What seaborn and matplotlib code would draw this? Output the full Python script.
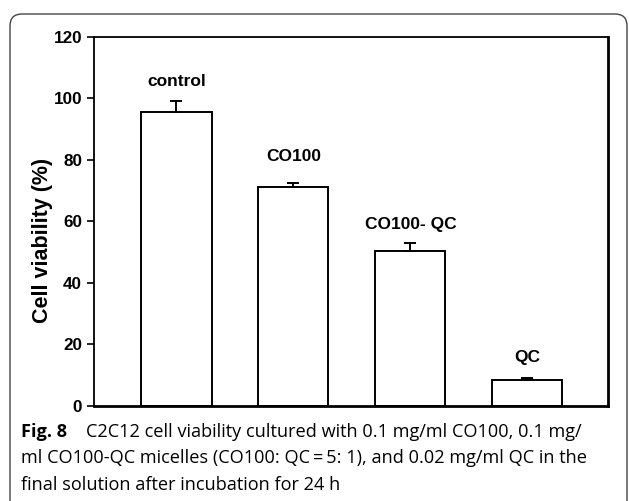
import matplotlib
matplotlib.use("Agg")
import matplotlib.pyplot as plt
from matplotlib.patches import FancyBboxPatch
import seaborn as sns
import pandas as pd

categories = ["control", "CO100", "CO100- QC", "QC"]
viability = [95.4, 71.0, 50.2, 8.5]
errors = [3.6, 1.3, 2.9, 0.7]
label_y = [105.3, 80.9, 58.8, 15.9]
yticks = [0, 20, 40, 60, 80, 100, 120]

df = pd.DataFrame({"group": categories, "viability": viability})

sns.set_style("ticks")
plt.rcParams['font.family'] = ['Liberation Sans', 'DejaVu Sans']
for k in ['text.color', 'axes.labelcolor', 'xtick.color', 'ytick.color', 'axes.edgecolor']:
    plt.rcParams[k] = 'black'

fig = plt.figure(figsize=(6.29, 5.01), dpi=100)
ax = fig.add_axes([94/629, 95/501, 514/629, (406-36.6)/501])

sns.barplot(data=df, x="group", y="viability", color="white", edgecolor="black",
            linewidth=1.4, width=0.6, ax=ax, errorbar=None, saturation=1)
ax.errorbar(range(len(categories)), viability, yerr=[[0]*4, errors], fmt="none",
            ecolor="black", elinewidth=1.4, capsize=4.3, capthick=1.4)

for i, (c, ly) in enumerate(zip(categories, label_y)):
    ax.text(i, ly, c, ha="center", va="center", fontsize=12.5, fontweight="bold")

ax.set_xlim(-0.705, 3.69)
ax.set_ylim(0, 120)
ax.set_yticks(yticks)
ax.set_yticklabels([str(t) for t in yticks], fontsize=12.3, fontweight="bold")
ax.set_xticks([])
ax.set_xlabel("")
ax.set_ylabel("Cell viability (%)", fontsize=15.5, fontweight="bold")
ax.yaxis.set_label_coords(-0.08, 0.449)
ax.tick_params(axis="y", direction="out", length=5, width=1.2, pad=3.5)
for s in ["left", "top"]:
    ax.spines[s].set_linewidth(1.3)
for s in ["right", "bottom"]:
    ax.spines[s].set_linewidth(2)
for s in ax.spines.values():
    s.set_color("black")
    s.set_visible(True)

# caption frame
box = FancyBboxPatch((10, -30), 617, 517, boxstyle="round,pad=0,rounding_size=12",
                     transform=None, facecolor="none", edgecolor="#444444", linewidth=1.0)
fig.patches.append(box)

cap_font = ['Open Sans', 'DejaVu Sans']
fs = 13.1
fig.text(21/629, 1-432/501, "Fig. 8", fontsize=fs, fontweight="bold", family=cap_font, va="center")
fig.text(86/629, 1-432/501, "C2C12 cell viability cultured with 0.1 mg/ml CO100, 0.1 mg/",
         fontsize=fs, family=cap_font, va="center")
fig.text(21/629, 1-458/501, "ml CO100-QC micelles (CO100: QC\u2009=\u20095: 1), and 0.02 mg/ml QC in the",
         fontsize=fs, family=cap_font, va="center")
fig.text(21/629, 1-485/501, "final solution after incubation for 24 h",
         fontsize=fs, family=cap_font, va="center")

fig.savefig("out.png", dpi=100)
